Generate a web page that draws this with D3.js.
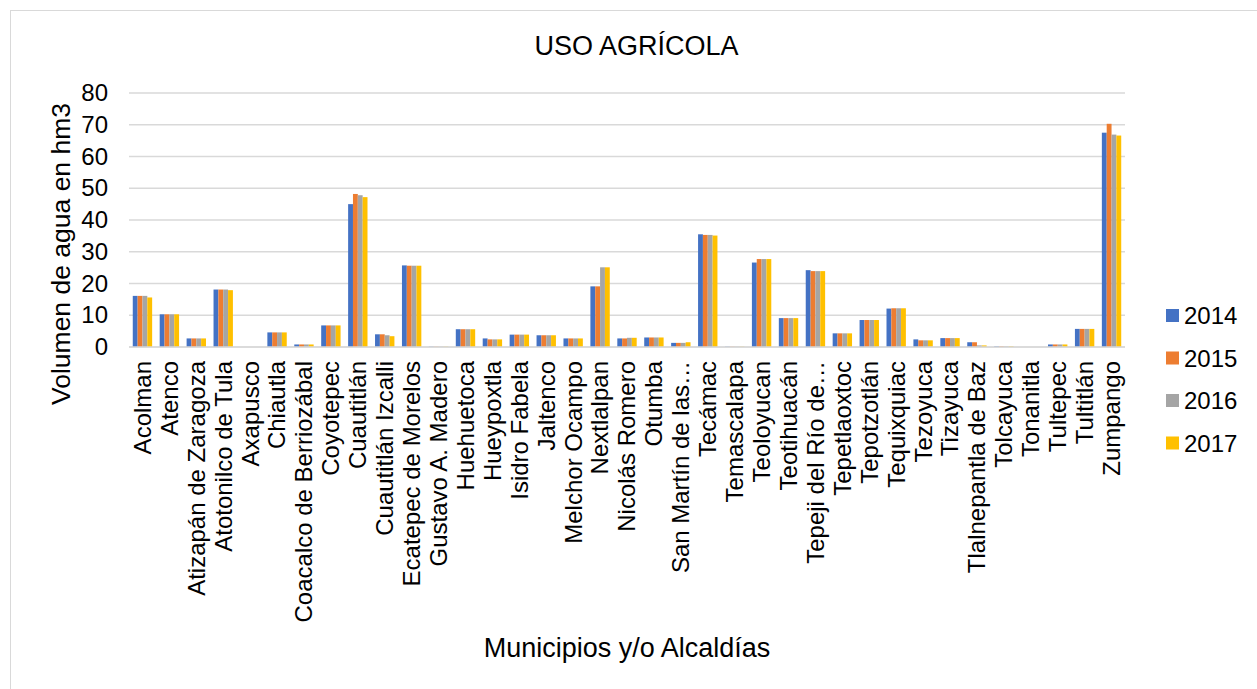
<!DOCTYPE html>
<html>
<head>
<meta charset="utf-8">
<script src="https://cdn.jsdelivr.net/npm/d3@7"></script>
<style>
  html, body { margin: 0; padding: 0; background: #fff; }
  text { font-family: "Liberation Sans", Arial, sans-serif; fill: #000; }
</style>
</head>
<body>
<svg id="chart" width="1257" height="689"></svg>
<script>
const categories = ["Acolman","Atenco","Atizapán de Zaragoza","Atotonilco de Tula","Axapusco","Chiautla","Coacalco de Berriozábal","Coyotepec","Cuautitlán","Cuautitlán Izcalli","Ecatepec de Morelos","Gustavo A. Madero","Huehuetoca","Hueypoxtla","Isidro Fabela","Jaltenco","Melchor Ocampo","Nextlalpan","Nicolás Romero","Otumba","San Martín de las…","Tecámac","Temascalapa","Teoloyucan","Teotihuacán","Tepeji del Río de…","Tepetlaoxtoc","Tepotzotlán","Tequixquiac","Tezoyuca","Tizayuca","Tlalnepantla de Baz","Tolcayuca","Tonanitla","Tultepec","Tultitlán","Zumpango"];
const seriesNames = ["2014","2015","2016","2017"];
const v2014 = [16.1,10.3,2.7,18.1,0,4.6,0.8,6.8,45.0,4.0,25.7,0.1,5.6,2.7,3.9,3.7,2.7,19.1,2.7,3.0,1.3,35.5,0.1,26.6,9.1,24.2,4.3,8.5,12.1,2.4,2.8,1.5,0.2,0,0.8,5.7,67.5];
const v2015 = [16.1,10.3,2.7,18.1,0,4.6,0.8,6.8,48.2,4.0,25.6,0.1,5.6,2.4,3.9,3.7,2.7,19.1,2.7,3.0,1.3,35.3,0.1,27.7,9.1,23.9,4.3,8.5,12.2,2.1,2.8,1.5,0.2,0,0.8,5.7,70.3];
const v2016 = [16.1,10.3,2.7,18.1,0,4.6,0.8,6.8,47.8,3.7,25.6,0.1,5.6,2.4,3.9,3.7,2.7,25.1,2.9,3.0,1.3,35.3,0.1,27.7,9.1,23.9,4.3,8.5,12.2,2.1,2.8,0.5,0.2,0,0.8,5.7,66.9];
const v2017 = [15.6,10.3,2.7,17.9,0,4.6,0.8,6.8,47.2,3.4,25.6,0.1,5.6,2.4,3.9,3.7,2.7,25.1,2.9,3.0,1.5,35.1,0.1,27.7,9.1,23.9,4.3,8.5,12.2,2.1,2.8,0.5,0.2,0,0.8,5.7,66.6];
const yTicks = [0,10,20,30,40,50,60,70,80];
const colors = ["#4472C4","#ED7D31","#A5A5A5","#FFC000"];
const series = [v2014, v2015, v2016, v2017];

(function(){
const svg = d3.select("#chart");
const pLeft = 129, pRight = 1125, pTop = 93, pBottom = 347;

svg.append("rect").attr("x",10.5).attr("y",10.5).attr("width",1250).attr("height",690)
  .attr("fill","none").attr("stroke","#D9D9D9").attr("stroke-width",1);

const x = d3.scaleBand().domain(categories).range([pLeft,pRight]).paddingInner(0.28).paddingOuter(0.14);
const xs = d3.scaleBand().domain(seriesNames).range([0,x.bandwidth()]);
const y = d3.scaleLinear().domain([0,80]).range([pBottom,pTop]);

svg.append("g").selectAll("line").data(yTicks).join("line")
  .attr("x1",pLeft).attr("x2",pRight)
  .attr("y1",d=>y(d)).attr("y2",d=>y(d))
  .attr("stroke","#D9D9D9").attr("stroke-width",1.5);

const yAxis = d3.axisLeft(y).tickValues(yTicks).tickSize(0).tickPadding(0);
const yg = svg.append("g").attr("transform","translate(108,0)").call(yAxis);
yg.select(".domain").remove();
yg.selectAll("text").style("font-size","24px").style("font-family","Liberation Sans, Arial, sans-serif").attr("fill","#000");

const groups = svg.append("g").selectAll("g").data(categories).join("g")
  .attr("transform",d=>`translate(${x(d)},0)`);
groups.selectAll("rect").data((d,i)=>seriesNames.map((s,j)=>({s, v: series[j][i], j})))
  .join("rect")
  .attr("x",d=>xs(d.s)).attr("width",xs.bandwidth())
  .attr("y",d=>y(d.v)).attr("height",d=>y(0)-y(d.v))
  .attr("fill",d=>colors[d.j]);

svg.append("line").attr("x1",pLeft).attr("x2",pRight).attr("y1",pBottom).attr("y2",pBottom)
  .attr("stroke","#D9D9D9").attr("stroke-width",1.5);

const xAxis = d3.axisBottom(x).tickSize(0).tickPadding(0);
const xg = svg.append("g").attr("transform",`translate(0,${pBottom})`).call(xAxis);
xg.select(".domain").remove();
xg.selectAll("text")
  .style("font-size","24px").style("font-family","Liberation Sans, Arial, sans-serif").attr("fill","#000")
  .attr("text-anchor","end").attr("dy","0.35em")
  .attr("transform","translate(0,14) rotate(-90)")
  .attr("x",0).attr("y",0);

svg.append("text").attr("x",636.5).attr("y",55).attr("text-anchor","middle")
  .style("font-size","27px").text("USO AGRÍCOLA");

svg.append("text").attr("transform","translate(70,254) rotate(-90)").attr("text-anchor","middle")
  .style("font-size","26.5px").text("Volumen de agua en hm3");

svg.append("text").attr("x",627).attr("y",657).attr("text-anchor","middle")
  .style("font-size","27px").text("Municipios y/o Alcaldías");

const legY = d3.scalePoint().domain(seriesNames).range([315.5,443]);
const leg = svg.append("g").selectAll("g").data(seriesNames).join("g")
  .attr("transform",d=>`translate(1166,${legY(d)})`);
leg.append("rect").attr("x",0).attr("y",-6.5).attr("width",13).attr("height",13)
  .attr("fill",(d,i)=>colors[i]);
leg.append("text").attr("x",18).attr("dy","0.36em").style("font-size","24px").text(d=>d);
})();
</script>
</body>
</html>
